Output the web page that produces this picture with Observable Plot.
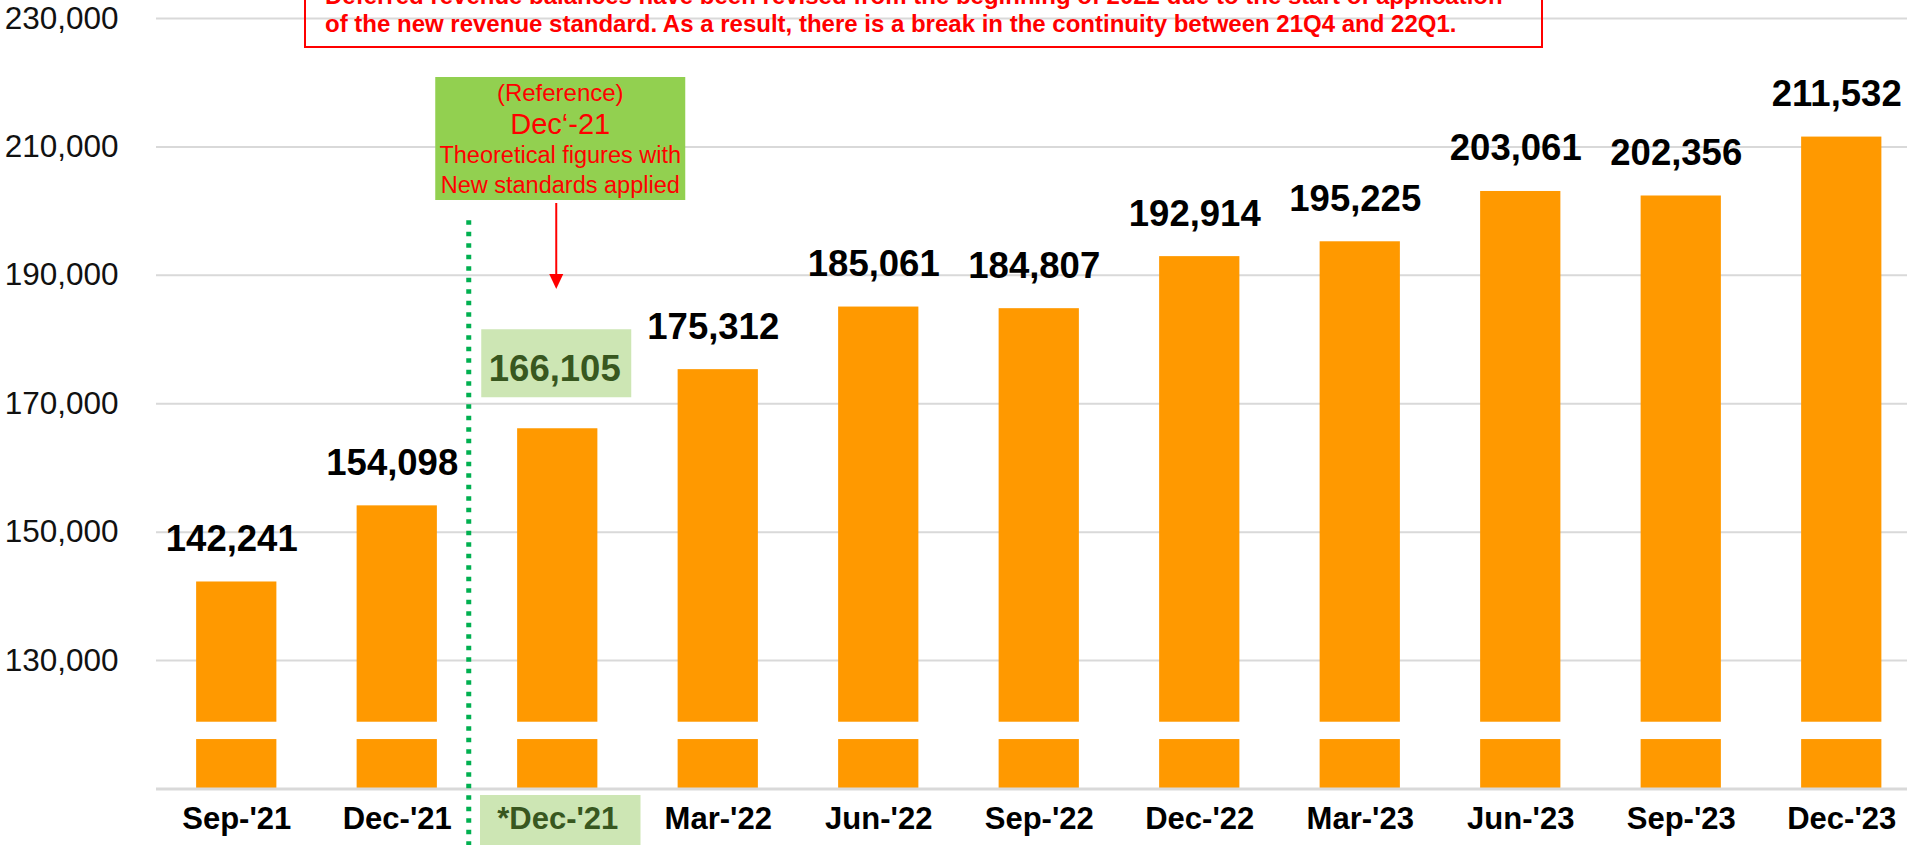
<!DOCTYPE html>
<html>
<head>
<meta charset="utf-8">
<script src="https://cdn.jsdelivr.net/npm/d3@7"></script>
<script src="https://cdn.jsdelivr.net/npm/@observablehq/plot@0.6"></script>
<style>
  html, body { margin: 0; padding: 0; background: #fff; overflow: hidden; }
  #chart svg { display: block; }
</style>
</head>
<body>
<div id="chart"></div>
<script>
// ---- data ----
const categories = ["Sep-'21", "Dec-'21", "*Dec-'21", "Mar-'22", "Jun-'22", "Sep-'22", "Dec-'22", "Mar-'23", "Jun-'23", "Sep-'23", "Dec-'23"];
const values = [142241, 154098, 166105, 175312, 185061, 184807, 192914, 195225, 203061, 202356, 211532];
const referenceCategory = "*Dec-'21";
const yTicks = [130000, 150000, 170000, 190000, 210000, 230000];
const yMin = 110000, yMax = 230000;
const breakLow = 117700, breakHigh = 120400;     // axis-break gap in the bars
const dividerTop = 198500, dividerBottom = 101000; // extent of the green dotted divider
const noteLines = [
  "Deferred revenue balances have been revised from the beginning of 2022 due to the start of application",
  "of the new revenue standard. As a result, there is a break in the continuity between 21Q4 and 22Q1."
];
const refBoxLines = ["(Reference)", "Dec\u2018-21", "Theoretical figures with", "New standards applied"];

const data = categories.map((c, i) => ({cat: c, value: values[i], ref: c === referenceCategory}));
const fmt = d3.format(",");

const ORANGE = "#FF9900", GRID = "#d9d9d9", DKGREEN = "#38571f", LTGREEN = "#cde6b4", RED = "#ff0000";
const W = 1907, H = 845, ML = 156, MB = 56.5, MT = 18;

const chart = Plot.plot({
  width: W, height: H,
  marginLeft: ML, marginRight: 0, marginTop: MT, marginBottom: MB,
  style: {fontFamily: "'Liberation Sans', Arial, sans-serif", background: "#fff"},
  x: {type: "band", domain: categories, range: [ML, ML + 11 * 160.5], paddingInner: 0.5, paddingOuter: 0.25, round: false, axis: null},
  y: {domain: [yMin, yMax], axis: null},
  marks: [
    Plot.ruleY(yTicks, {stroke: GRID, strokeWidth: 2}),
    Plot.barY(data, {x: "cat", y1: () => yMin, y2: () => breakLow, fill: ORANGE}),
    Plot.barY(data, {x: "cat", y1: () => breakHigh, y2: "value", fill: ORANGE}),
    Plot.ruleY([yMin], {stroke: GRID, strokeWidth: 3}),
    Plot.text(yTicks, {y: d => d, frameAnchor: "left", dx: -38, textAnchor: "end", text: d => fmt(d), fontSize: 31.5, fill: "#111"}),
    Plot.text(data.filter(d => !d.ref), {x: "cat", y: "value", text: d => fmt(d.value), dy: -31, dx: -5, lineAnchor: "bottom", fontSize: 36.5, fontWeight: "bold", fill: "#000"}),
    Plot.text(data.filter(d => d.ref), {x: "cat", y: "value", text: d => fmt(d.value), dy: -48, dx: -3, lineAnchor: "bottom", fontSize: 36.5, fontWeight: "bold", fill: DKGREEN}),
    Plot.text(categories, {x: d => d, frameAnchor: "bottom", dy: 39.5, text: d => d, fontSize: 31, fontWeight: "bold", fill: d => d === referenceCategory ? DKGREEN : "#000"}),
    Plot.ruleX([referenceCategory], {x: d => d, dx: -89, y1: () => dividerTop, y2: () => dividerBottom, stroke: "#00B050", strokeWidth: 5, strokeDasharray: "4.5,7"})
  ]
});
document.getElementById("chart").appendChild(chart);

// ---- annotations ----
const svg = d3.select(chart);
const xs = chart.scale("x"), ys = chart.scale("y");
const refCx = xs.apply(referenceCategory) + xs.bandwidth / 2;
const refVal = values[categories.indexOf(referenceCategory)];

// background behind the reference value label
const refText = svg.selectAll("text").filter(function () { return this.textContent === fmt(refVal); }).node();
if (refText) {
  const base = ys.apply(refVal) - 48;
  const g = refText.closest("g[aria-label='text']") || refText.parentNode;
  const r = document.createElementNS("http://www.w3.org/2000/svg", "rect");
  r.setAttribute("x", refCx - 1 - 75); r.setAttribute("width", 150);
  r.setAttribute("y", base - 51); r.setAttribute("height", 68);
  r.setAttribute("fill", LTGREEN);
  g.parentNode.insertBefore(r, g);
}
// background behind the reference x label
const refLab = svg.selectAll("text").filter(function () { return this.textContent === referenceCategory; }).node();
if (refLab) {
  const g = refLab.closest("g[aria-label='text']") || refLab.parentNode;
  const r = document.createElementNS("http://www.w3.org/2000/svg", "rect");
  r.setAttribute("x", refCx + 3 - xs.step / 2); r.setAttribute("width", xs.step);
  r.setAttribute("y", H - MB + 6.5); r.setAttribute("height", MB);
  r.setAttribute("fill", LTGREEN);
  g.parentNode.insertBefore(r, g);
}

// green reference box + arrow
const ann = svg.append("g").attr("font-family", "'Liberation Sans', Arial, sans-serif");
const bx = refCx + 3;
ann.append("rect").attr("x", bx - 125).attr("y", 77).attr("width", 250).attr("height", 123).attr("fill", "#92D050");
const refLineY = [100.5, 134, 163.3, 192.5], refLineSize = [24, 29, 23.5, 23.5];
refBoxLines.forEach((t, i) => {
  ann.append("text").attr("x", bx).attr("y", refLineY[i]).attr("text-anchor", "middle")
    .attr("font-size", refLineSize[i]).attr("fill", RED).text(t);
});
const ax = refCx - 1;
ann.append("line").attr("x1", ax).attr("x2", ax).attr("y1", 203).attr("y2", 276).attr("stroke", RED).attr("stroke-width", 2);
ann.append("path").attr("d", `M${ax - 7},274L${ax + 7},274L${ax},289Z`).attr("fill", RED);

// red note box at top (partly cut off, as in the original slide)
ann.append("rect").attr("x", 305).attr("y", -12).attr("width", 1237).attr("height", 59)
  .attr("fill", "none").attr("stroke", RED).attr("stroke-width", 2);
noteLines.forEach((t, i) => {
  ann.append("text").attr("x", 325).attr("y", 4 + i * 27.7).attr("text-anchor", "start")
    .attr("font-size", 24).attr("font-weight", "bold").attr("fill", RED).text(t);
});
</script>
</body>
</html>
